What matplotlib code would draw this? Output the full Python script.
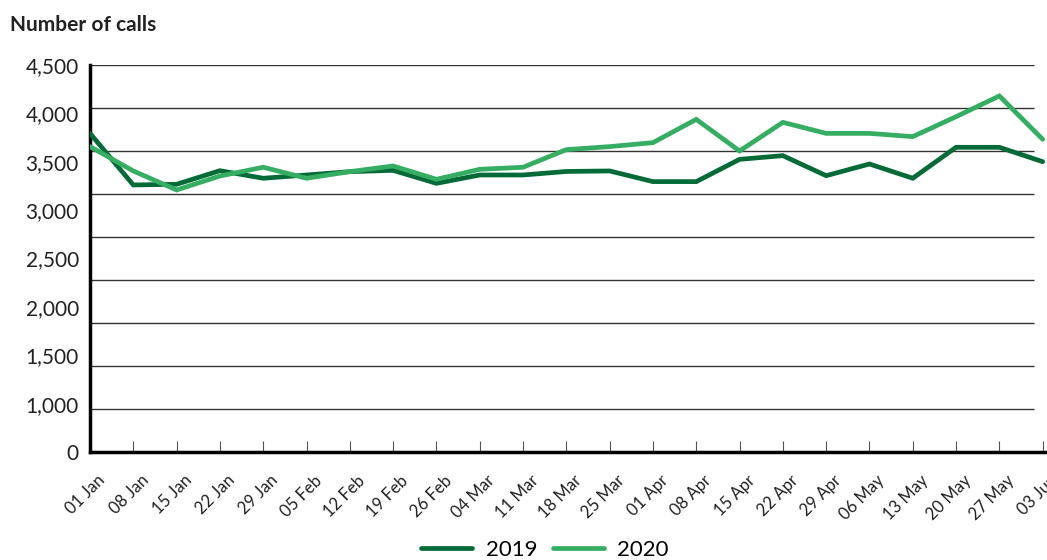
import numpy as np
import matplotlib
matplotlib.use("Agg")
import matplotlib.pyplot as plt
import matplotlib.transforms as mtransforms

plt.rcParams['font.family'] = ['Lato', 'DejaVu Sans']

# weekly call counts
weeks = ["01 Jan", "08 Jan", "15 Jan", "22 Jan", "29 Jan", "05 Feb", "12 Feb",
         "19 Feb", "26 Feb", "04 Mar", "11 Mar", "18 Mar", "25 Mar", "01 Apr",
         "08 Apr", "15 Apr", "22 Apr", "29 Apr", "06 May", "13 May", "20 May",
         "27 May", "03 Jun"]
calls_2019 = [3705, 3105, 3113, 3271, 3183, 3221, 3260, 3275, 3124, 3221, 3221,
              3262, 3268, 3144, 3144, 3403, 3446, 3213, 3349, 3183, 3543, 3543, 3376]
calls_2020 = [3551, 3268, 3047, 3209, 3311, 3183, 3260, 3326, 3171, 3287, 3311,
              3516, 3551, 3597, 3868, 3500, 3833, 3705, 3705, 3667, 3899, 4140, 3636]

# the labels in the source are spread evenly, not on the grid lines
ylabels = ["0", "1,000", "1,500", "2,000", "2,500", "3,000", "3,500", "4,000", "4,500"]
grid_vals = [500, 1000, 1500, 2000, 2500, 3000, 3500, 4000, 4500]

dark = "#046A38"
light = "#35AD62"

fig = plt.figure(figsize=(10.47, 5.6), dpi=100)
ax = fig.add_axes([90 / 1047, 1 - 452 / 560, 957 / 1047, 387 / 560])

x = np.arange(len(weeks))
ax.set_xlim(0, 22.1)
ax.set_ylim(0, 4500)

ax.hlines(grid_vals, 0, 21.8, color="#333333", linewidth=1.0, zorder=1)

ax.plot(x, calls_2019, color=dark, linewidth=3.4, label="2019", zorder=3,
        solid_capstyle="round", solid_joinstyle="miter")
ax.plot(x, calls_2020, color=light, linewidth=3.4, label="2020", zorder=3,
        solid_capstyle="round", solid_joinstyle="miter")

ax.spines['top'].set_visible(False)
ax.spines['right'].set_visible(False)
ax.spines['left'].set_linewidth(2.5)
ax.spines['bottom'].set_linewidth(2.5)

ax.set_yticks(np.linspace(0, 4500, 9))
ax.set_yticklabels(ylabels, fontsize=15, color="#222222")
ax.tick_params(axis='y', length=0, pad=8)

ax.set_xticks(x)
ax.set_xticklabels(weeks, rotation=45, ha='right', rotation_mode='anchor',
                   fontsize=12, color="#222222")
ax.tick_params(axis='x', direction='in', length=8, width=0.8, color="#555555", pad=6)
shift = mtransforms.ScaledTranslation(7 / 100, -12 / 100, fig.dpi_scale_trans)
for lbl in ax.get_xticklabels():
    lbl.set_transform(lbl.get_transform() + shift)

fig.text(10 / 1047, 1 - 25 / 560, "Number of calls", fontsize=15, fontweight='bold',
         color="#222222", va='center', ha='left')

fig.legend(loc='center', bbox_to_anchor=(545 / 1047, 1 - 550 / 560), ncol=2, frameon=False,
           fontsize=16, handlelength=2.3, columnspacing=0.7, handletextpad=0.6)

fig.savefig("out.png", dpi=100)
